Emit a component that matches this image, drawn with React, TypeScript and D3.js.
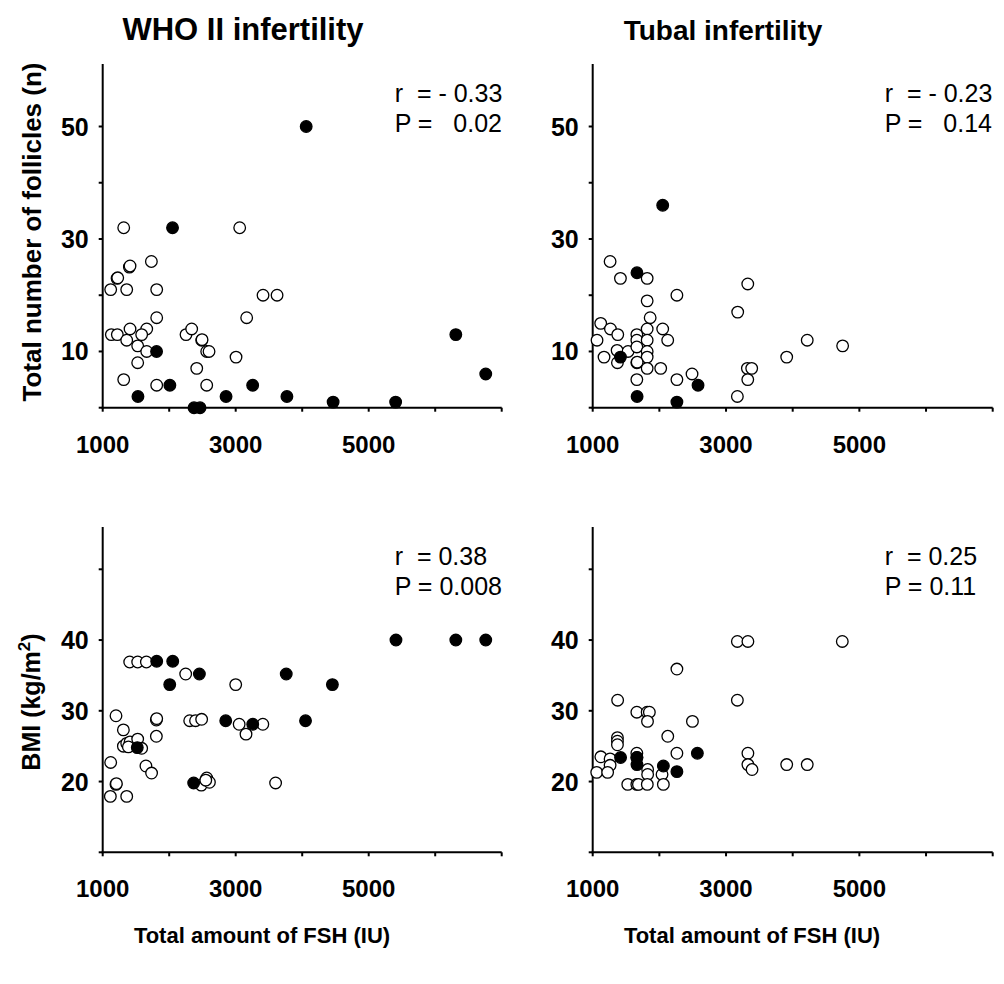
import React from "react";
import * as d3 from "d3";

// ---- data: [total FSH (IU), value] ----
const whoFolliclesOpen: [number, number][] = [
  [1316, 32], [3060, 32], [1732, 26], [1401, 25], [1411, 25.2], [1216, 23], [1226, 23.1],
  [1120, 21], [1361, 21], [1812, 21], [3411, 20], [3622, 20], [1812, 16], [3165, 16],
  [1130, 13], [1220, 13], [1411, 14], [1662, 14], [1586, 13], [1361, 12], [1526, 11],
  [1662, 10], [1526, 8], [1316, 5], [1812, 4], [2253, 13], [2338, 14], [2489, 12],
  [2494, 12.1], [2564, 10], [2599, 10], [2414, 7], [2564, 4], [3005, 9],
];
const whoFolliclesFilled: [number, number][] = [
  [4060, 50], [2050, 32], [1810, 10], [6310, 13], [6760, 6], [2010, 4], [3255, 4],
  [1530, 2], [2855, 2], [3770, 2], [4465, 1], [5405, 1], [2373, 0], [2464, 0],
];
const tubalFolliclesOpen: [number, number][] = [
  [1261, 26], [1416, 23], [1817, 23], [1817, 19], [2263, 20], [3326, 22], [1862, 16],
  [3175, 17], [1120, 15], [1266, 14], [1376, 13], [1662, 13], [1817, 14], [2050, 14],
  [1065, 12], [1662, 12], [1817, 12], [2125, 12], [1366, 10.2], [1530, 10], [1662, 10.8],
  [1817, 10], [1170, 9], [1817, 9], [1371, 8], [1662, 8], [1667, 8.1], [1817, 7],
  [2020, 7], [1662, 5], [2263, 5], [2490, 6], [3320, 7], [3385, 7], [3326, 5],
  [3170, 2], [3910, 9], [4218, 12], [4749, 11],
];
const tubalFolliclesFilled: [number, number][] = [
  [2050, 36], [1664, 24], [1416, 9], [2580, 4], [1666, 2], [2263, 1],
];
const whoBmiOpen: [number, number][] = [
  [1406, 36.9], [1526, 36.9], [1657, 36.9], [2248, 35.2], [3000, 33.7], [1200, 29.3],
  [1807, 28.7], [1812, 28.9], [2308, 28.6], [2396, 28.6], [2488, 28.8], [3052, 28.1],
  [3408, 28.1], [3155, 26.7], [1311, 27.3], [1311, 25.0], [1361, 25.4], [1411, 25.6],
  [1386, 24.9], [1526, 26.0], [1586, 24.7], [1807, 26.4], [1120, 22.7], [1650, 22.2],
  [1735, 21.2], [1200, 19.6], [1206, 19.7], [1115, 17.9], [1361, 17.9], [2483, 19.5],
  [2564, 20.5], [2605, 19.9], [2550, 20.2], [3600, 19.8],
];
const whoBmiFilled: [number, number][] = [
  [5410, 40], [6310, 40], [6760, 40], [1812, 37], [2053, 37], [2454, 35.2], [2008, 33.7],
  [3760, 35.2], [4454, 33.7], [2850, 28.6], [3256, 28.1], [4050, 28.6], [1520, 24.8],
  [2368, 19.8],
];
const tubalBmiOpen: [number, number][] = [
  [3170, 39.8], [3328, 39.8], [4744, 39.8], [2263, 35.9], [1374, 31.5], [3170, 31.5],
  [1662, 29.8], [1817, 29.8], [1850, 29.8], [1822, 28.5], [2496, 28.5], [1371, 26.2],
  [1371, 25.7], [1371, 25.2], [2126, 26.4], [1662, 24], [2263, 24], [3328, 24],
  [1122, 23.5], [1261, 23.2], [1261, 22.3], [1060, 21.3], [1224, 21.3], [1662, 23.4],
  [1824, 21.7], [1824, 21.0], [2040, 21.0], [3328, 22.4], [3390, 21.7], [3910, 22.4],
  [4218, 22.4], [1526, 19.6], [1662, 19.6], [1686, 19.6], [1819, 19.6], [2060, 19.6],
];
const tubalBmiFilled: [number, number][] = [
  [1418, 23.4], [1664, 23.4], [1664, 22.4], [2060, 22.2], [2263, 21.4], [2570, 24],
];

const xTickValues = [1000, 2000, 3000, 4000, 5000, 6000, 7000];
const xTickLabels = [1000, 3000, 5000];
const follicleTicks = [0, 10, 20, 30, 40, 50];
const follicleLabels = [10, 30, 50];
const bmiTicks = [10, 20, 30, 40, 50];
const bmiLabels = [20, 30, 40];

const groupTitles = ["WHO II infertility", "Tubal infertility"];
const yTitles = ["Total number of follicles (n)", "BMI (kg/m²)"];
const xTitle = "Total amount of FSH (IU)";
const statLines = [
  ["r  = - 0.33", "P =   0.02"],
  ["r  = - 0.23", "P =   0.14"],
  ["r  = 0.38", "P = 0.008"],
  ["r  = 0.25", "P = 0.11"],
];

const FONT = "'Liberation Sans', Arial, Helvetica, sans-serif";

type PanelProps = {
  x: d3.ScaleLinear<number, number>;
  y: d3.ScaleLinear<number, number>;
  yTicks: number[];
  yLabels: number[];
  open: [number, number][];
  filled: [number, number][];
  stats: string[];
};

function Panel({ x, y, yTicks, yLabels, open, filled, stats }: PanelProps) {
  const [x0, x1] = x.range();
  const [y0, y1] = y.range();
  const r = 5.8;
  return (
    <g>
      <line x1={x0} x2={x0} y1={y0 + 1} y2={y1} stroke="#000" strokeWidth={2} />
      <line x1={x0 - 1} x2={x1} y1={y0} y2={y0} stroke="#000" strokeWidth={2} />
      {xTickValues.map((v) => (
        <line key={"xt" + v} x1={x(v)} x2={x(v)} y1={y0} y2={y0 + 4} stroke="#000" strokeWidth={2} />
      ))}
      {yTicks.map((v) => (
        <line key={"yt" + v} x1={x0 - 4} x2={x0} y1={y(v)} y2={y(v)} stroke="#000" strokeWidth={2} />
      ))}
      {xTickLabels.map((v) => (
        <text key={"xl" + v} x={x(v)} y={y0 + 45} textAnchor="middle" fontFamily={FONT}
          fontWeight="bold" fontSize={24}>{v}</text>
      ))}
      {yLabels.map((v) => (
        <text key={"yl" + v} x={x0 - 14} y={y(v)} dy="0.36em" textAnchor="end" fontFamily={FONT}
          fontWeight="bold" fontSize={25}>{v}</text>
      ))}
      {open.map((d, i) => (
        <circle key={"o" + i} cx={x(d[0])} cy={y(d[1])} r={r} fill="#fff" stroke="#000" strokeWidth={1.3} />
      ))}
      {filled.map((d, i) => (
        <circle key={"f" + i} cx={x(d[0])} cy={y(d[1])} r={r} fill="#000" stroke="#000" strokeWidth={1.3} />
      ))}
      {stats.map((s, i) => (
        <text key={"s" + i} x={x0 + 292} y={y1 + 38 + i * 30} fontFamily={FONT} fontSize={25}
          style={{ whiteSpace: "pre" }} xmlSpace="preserve">{s}</text>
      ))}
    </g>
  );
}

export default function App() {
  const xLeft = d3.scaleLinear().domain([1000, 7000]).range([102.7, 501.7]);
  const xRight = d3.scaleLinear().domain([1000, 7000]).range([592.7, 992.7]);
  const yTopRef = d3.scaleLinear().domain([0, 50]).range([407.7, 126.5]);
  const yTop = d3.scaleLinear().domain([0, yTopRef.invert(64)]).range([407.7, 64]);
  const yBotRef = d3.scaleLinear().domain([10, 50]).range([852.3, 569.3]);
  const yBot = d3.scaleLinear().domain([10, yBotRef.invert(527)]).range([852.3, 527]);

  return (
    <svg width={1004} height={984} style={{ position: "absolute", left: 0, top: 0, background: "#fff" }}>
      <rect width={1004} height={984} fill="#fff" />
      <text x={243} y={40} textAnchor="middle" fontFamily={FONT} fontWeight="bold" fontSize={31}>{groupTitles[0]}</text>
      <text x={723} y={40} textAnchor="middle" fontFamily={FONT} fontWeight="bold" fontSize={28}>{groupTitles[1]}</text>
      <text transform="translate(41,232) rotate(-90)" textAnchor="middle" fontFamily={FONT} fontWeight="bold" fontSize={26}>{yTitles[0]}</text>
      <text transform="translate(40,702) rotate(-90)" textAnchor="middle" fontFamily={FONT} fontWeight="bold" fontSize={25}>
        BMI (kg/m<tspan dy="-10" fontSize={17}>2</tspan><tspan dy="10">)</tspan>
      </text>
      <text x={262} y={943} textAnchor="middle" fontFamily={FONT} fontWeight="bold" fontSize={22}>{xTitle}</text>
      <text x={752} y={943} textAnchor="middle" fontFamily={FONT} fontWeight="bold" fontSize={22}>{xTitle}</text>
      <Panel x={xLeft} y={yTop} yTicks={follicleTicks} yLabels={follicleLabels} open={whoFolliclesOpen} filled={whoFolliclesFilled} stats={statLines[0]} />
      <Panel x={xRight} y={yTop} yTicks={follicleTicks} yLabels={follicleLabels} open={tubalFolliclesOpen} filled={tubalFolliclesFilled} stats={statLines[1]} />
      <Panel x={xLeft} y={yBot} yTicks={bmiTicks} yLabels={bmiLabels} open={whoBmiOpen} filled={whoBmiFilled} stats={statLines[2]} />
      <Panel x={xRight} y={yBot} yTicks={bmiTicks} yLabels={bmiLabels} open={tubalBmiOpen} filled={tubalBmiFilled} stats={statLines[3]} />
    </svg>
  );
}
